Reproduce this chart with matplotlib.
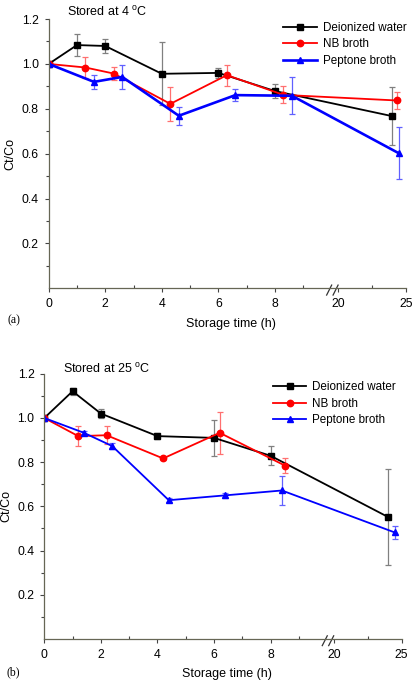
import numpy as np
import matplotlib
matplotlib.use('Agg')
import matplotlib.pyplot as plt

plt.rcParams['font.family'] = ['Liberation Sans', 'DejaVu Sans']
plt.rcParams['mathtext.fontset'] = 'custom'
plt.rcParams['mathtext.rm'] = 'Liberation Sans'

# ---- data: (a) stored at 4 C ----
a_dw_x = [0, 1, 2, 4, 6, 8, 24]
a_dw_y = [1.0, 1.084, 1.08, 0.956, 0.96, 0.879, 0.767]
a_dw_e = [0.0, 0.048, 0.03, 0.14, 0.022, 0.03, 0.128]

a_nb_x = [0, 1.3, 2.3, 4.3, 6.3, 8.3, 24.35]
a_nb_y = [1.0, 0.984, 0.957, 0.822, 0.95, 0.862, 0.837]
a_nb_e = [0.0, 0.045, 0.03, 0.076, 0.047, 0.038, 0.038]

a_pb_x = [0, 1.6, 2.6, 4.6, 6.6, 8.6, 24.5]
a_pb_y = [1.0, 0.92, 0.942, 0.769, 0.861, 0.858, 0.601]
a_pb_e = [0.0, 0.032, 0.052, 0.04, 0.026, 0.083, 0.116]

# ---- data: (b) stored at 25 C ----
b_dw_x = [0, 1, 2, 4, 6, 8, 24]
b_dw_y = [1.0, 1.121, 1.02, 0.918, 0.91, 0.829, 0.552]
b_dw_e = [0.0, 0.015, 0.02, 0.012, 0.08, 0.043, 0.215]

b_nb_x = [0, 1.2, 2.2, 4.2, 6.2, 8.5]
b_nb_y = [1.0, 0.918, 0.922, 0.817, 0.933, 0.785]
b_nb_e = [0.0, 0.044, 0.04, 0.008, 0.095, 0.036]

b_pb_x = [0, 1.4, 2.4, 4.4, 6.4, 8.4, 24.5]
b_pb_y = [1.0, 0.933, 0.873, 0.628, 0.65, 0.672, 0.482]
b_pb_e = [0.0, 0.01, 0.012, 0.01, 0.01, 0.064, 0.03]

labels = ['Deionized water', 'NB broth', 'Peptone broth']
xticks = [0, 2, 4, 6, 8, 20, 25]
xminor = [1, 3, 5, 7, 9, 22.5]
yticks = [0.2, 0.4, 0.6, 0.8, 1.0, 1.2]

# broken time axis: 0-10 h linear, then jump to 19.5 h with compressed scale
K = 0.478


def fwd(x):
    x = np.asarray(x, dtype=float)
    return np.where(x <= 10, x, np.where(x < 19.5, 10.0, 10 + (x - 19.5) * K))


def inv(p):
    p = np.asarray(p, dtype=float)
    return np.where(p <= 10, p, 19.5 + (p - 10) / K)


def panel(ax, series, title, tag, lw_blue, lab_x, xlab_y, tag_xy, title_xy):
    styles = [('black', '#808080', 's', 3.8, 1.3),
              ('#ff0000', '#ff7070', 'o', 4.6, 1.3),
              ('#0000ff', '#6060ff', '^', 5.0, lw_blue)]
    handles = []
    for (x, y, e), lab, (c, ec, m, ms, lw) in zip(series, labels, styles):
        eb = ax.errorbar(x, y, yerr=e, color=c, ecolor=ec, elinewidth=0.9,
                         capsize=2.2, capthick=0.9, marker=m, markersize=ms,
                         lw=lw)
        handles.append(eb[0])
    ax.set_xscale('function', functions=(fwd, inv))
    ax.set_xlim(0, 25)
    ax.set_ylim(0, 1.2)
    ax.set_xticks(xticks)
    ax.set_xticklabels([str(t) for t in xticks])
    ax.set_xticks(xminor, minor=True)
    ax.set_yticks(yticks)
    ax.set_yticklabels(['%.1f' % t for t in yticks])
    ax.set_yticks(np.arange(0.1, 1.2, 0.2), minor=True)
    for s in ['top', 'right']:
        ax.spines[s].set_visible(False)
    for s in ['left', 'bottom']:
        ax.spines[s].set_color('#666655')
        ax.spines[s].set_linewidth(0.9)
    ax.tick_params(which='major', length=3, width=0.8, color='#444', labelsize=8.8, pad=4)
    ax.tick_params(axis='y', which='minor', length=2.5, width=0.8, color='#444')
    ax.tick_params(axis='x', which='minor', direction='in', length=2.5, width=0.8, color='#444')
    ax.set_xlabel('Storage time (h)', fontsize=9)
    ax.set_ylabel('Ct/Co', fontsize=9)
    ax.xaxis.set_label_coords(0.51, xlab_y)
    ax.yaxis.set_label_coords(lab_x, 0.5)
    ax.text(title_xy[0], title_xy[1], title, transform=ax.transAxes, fontsize=9, va='center')
    ax.text(tag_xy[0], tag_xy[1], tag, transform=ax.transAxes, fontsize=8.5,
            family=['Liberation Serif', 'DejaVu Serif'], va='center', ha='center')
    # break marks on the time axis
    for f in (0.785, 0.803):
        ax.plot([f - 0.007, f + 0.007], [-0.025, 0.012], color='#333',
                lw=0.9, transform=ax.transAxes, clip_on=False)
    leg = ax.legend(handles, labels, loc='upper left', frameon=False, fontsize=8.4,
                    handlelength=2.9, handletextpad=0.5, labelspacing=0.38,
                    borderpad=0, borderaxespad=0)
    return leg


fig = plt.figure(figsize=(4.14, 6.8), dpi=100)
ax1 = fig.add_axes([0.1176, 0.576, 0.863, 0.396])
ax2 = fig.add_axes([0.107, 0.0603, 0.863, 0.390])

leg1 = panel(ax1, [(a_dw_x, a_dw_y, a_dw_e), (a_nb_x, a_nb_y, a_nb_e),
                   (a_pb_x, a_pb_y, a_pb_e)],
             'Stored at 4 $^\\mathregular{o}$C', '(a)', 1.9,
             -0.0915, -0.109, (-0.0985, -0.12), (0.05, 1.025))
leg1.set_bbox_to_anchor((0.656, 0.99), transform=ax1.transAxes)

leg2 = panel(ax2, [(b_dw_x, b_dw_y, b_dw_e), (b_nb_x, b_nb_y, b_nb_e),
                   (b_pb_x, b_pb_y, b_pb_e)],
             'Stored at 25 $^\\mathregular{o}$C', '(b)', 1.3,
             -0.0895, -0.110, (-0.0876, -0.127), (0.0515, 1.0166))
leg2.set_bbox_to_anchor((0.639, 0.971), transform=ax2.transAxes)

fig.savefig('out.png', dpi=100)
